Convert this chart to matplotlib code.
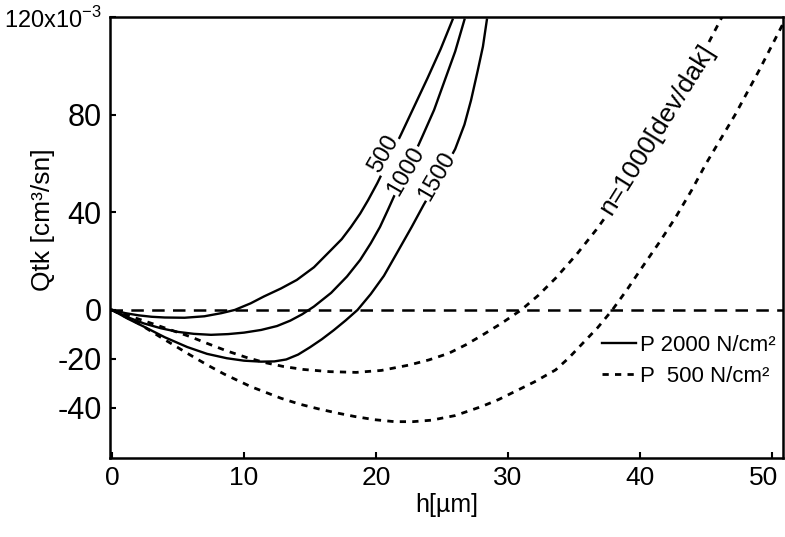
import matplotlib
matplotlib.use("Agg")
import matplotlib.pyplot as plt
from matplotlib.transforms import ScaledTranslation

# values (h in micrometre, Q x10^-3 cm3/sn)
h_500 = [0, 1, 2, 3, 4, 5.5, 7, 8.3, 9.3, 10.5, 11.5, 12.8, 14, 15.3, 16.6, 17.4, 18.1, 18.8, 19.4,
         20.1, 21, 21.9, 22.9, 23.9, 24.9, 25.8]
q_500 = [0, -1.3, -2.2, -2.8, -3.1, -3.2, -2.6, -1.3, 0, 2.7, 5.5, 8.8, 12.3, 17.5, 24.6, 29, 34, 39.5, 45,
         52, 62, 72, 83.5, 95, 107, 119]

h_1000 = [0, 1.2, 2.4, 3.7, 5, 6.2, 7.5, 8.8, 10, 11.3, 12.5, 13.5, 14.4, 15.3, 16.6, 17.8, 18.8, 19.6,
          20.3, 20.9, 21.4, 22.5, 23.5, 24.4, 25.2, 26, 26.7]
q_1000 = [0, -3, -5.5, -7.5, -9, -9.8, -10.2, -9.9, -9.3, -8.2, -6.6, -4.4, -1.8, 1.4, 7, 13.7, 20.5, 27.3,
          34, 41, 47, 59, 71, 82, 94, 106, 119]

h_1500 = [0, 1.2, 2.4, 4, 5.7, 7.2, 8.7, 10, 11.3, 12.3, 13.2, 14.1, 15, 15.9, 16.8, 17.7, 18.6, 19.6,
          20.6, 21.6, 22.7, 23.6, 24.5, 25.3, 26, 26.7, 27.2, 27.7, 28.1, 28.4]
q_1500 = [0, -3.6, -6.8, -11.2, -15.2, -18, -19.8, -20.8, -21.2, -21.1, -20.3, -18.3, -15.3, -12, -8.3,
          -4.3, 0, 6.5, 14, 23.5, 34, 43, 51.5, 59, 66, 76, 86, 98, 108, 119]

# P = 500 N/cm2, dashed
h_d1 = [0, 1.5, 3, 4.5, 5.9, 7.3, 8.7, 10.2, 11.6, 13, 14.5, 16.5, 18.5, 20.4, 22.5, 24, 25.5, 26.8, 28,
        29.5, 31, 32.3, 33.6, 35.2, 36.7, 37.9, 39, 40.2, 41.4, 42.6, 43.7, 44.9, 46.2]
q_d1 = [0, -2.8, -5.5, -8.3, -10.9, -13.9, -16.8, -19.5, -21.6, -23.2, -24.4, -25.3, -25.6, -24.8, -22.6,
        -20.5, -17.8, -14.3, -10.5, -5.5, 0, 6, 13, 22.8, 33, 42, 51, 62, 73.5, 84.5, 95, 106.5, 120]

h_d2 = [0, 2, 3.6, 4.8, 5.9, 7.2, 8.5, 10.5, 12.8, 14.2, 15.6, 17, 18.4, 19.9, 21.4, 22.8, 24.2, 26, 28,
        29.3, 30.5, 32, 33.6, 34.6, 35.6, 36.8, 37.9, 39, 40.2, 41.5, 42.7, 43.9, 45, 46.1, 47.2, 48.1,
        49, 49.9, 50.8]
q_d2 = [0, -5.5, -10.9, -14.8, -18.4, -22.5, -26.3, -31.4, -36.2, -38.6, -40.5, -42.2, -43.7, -45, -45.8,
        -45.8, -45.2, -43.3, -39.6, -36.7, -33.5, -29.5, -24.6, -19.7, -14, -7.2, 0, 8.2, 17.8, 28, 38,
        49, 60, 70, 80, 89, 98, 107.5, 117]

x_ticks = [0, 10, 20, 30, 40, 50]
y_ticks = [120, 80, 40, 0, -20, -40]
y_tick_labels = ["120x10$^{\\mathregular{-3}}$", "80", "40", "0", "-20", "-40"]

plt.rcParams["font.family"] = ["Liberation Sans", "DejaVu Sans"]
plt.rcParams["lines.scale_dashes"] = False

fig = plt.figure(figsize=(7.85, 5.37), dpi=100)
ax = fig.add_axes([110 / 785, 79 / 537, 673 / 785, 441 / 537])

lw = 1.7
ax.plot(h_500, q_500, color="black", lw=lw)
ax.plot(h_1000, q_1000, color="black", lw=lw)
ax.plot(h_1500, q_1500, color="black", lw=lw, label="P 2000 N/cm²")
ax.plot(h_d1, q_d1, color="black", lw=2.0, dashes=(4.5, 4.5), label="P  500 N/cm²")
ax.plot(h_d2, q_d2, color="black", lw=2.0, dashes=(4.5, 4.5))
ax.axhline(0, color="black", lw=1.8, dashes=(9, 6))

# curve labels
lab = dict(fontsize=17, rotation=60, ha="center", va="center",
           bbox=dict(facecolor="white", edgecolor="none", pad=0.5))
ax.text(20.6, 64, "500", **lab)
ax.text(22.3, 57, "1000", **lab)
ax.text(24.6, 55, "1500", **lab)
ax.text(41.3, 74, "n=1000[dev/dak]", fontsize=19, rotation=58, ha="center", va="center",
        bbox=dict(facecolor="white", edgecolor="none", pad=0.5))

ax.set_xlim(-0.15, 50.83)
ax.set_ylim(-60.7, 120.1)
ax.set_xticks(x_ticks)
ax.set_yticks(y_ticks)
ax.set_yticklabels(y_tick_labels)
ax.tick_params(direction="in", length=4, width=1.5, pad=6)
ax.tick_params(axis="y", labelsize=22)
ax.tick_params(axis="x", labelsize=19)
ax.get_yticklabels()[0].set_fontsize(17)

# keep the "50" label inside the picture
last = ax.get_xticklabels()[-1]
last.set_transform(last.get_transform() + ScaledTranslation(-6 / 72, 0, fig.dpi_scale_trans))

for s in ax.spines.values():
    s.set_linewidth(1.8)

ax.set_xlabel("h[µm]", fontsize=18, labelpad=2)
ax.set_ylabel("Qtk [cm³/sn]", fontsize=19)
ax.yaxis.set_label_coords(-0.082, 0.54)

ax.legend(loc="center left", bbox_to_anchor=(0.715, 0.22), frameon=False, fontsize=16,
          handlelength=1.5, handletextpad=0.2, labelspacing=0.45, borderpad=0)

fig.savefig("out.png", dpi=100)
